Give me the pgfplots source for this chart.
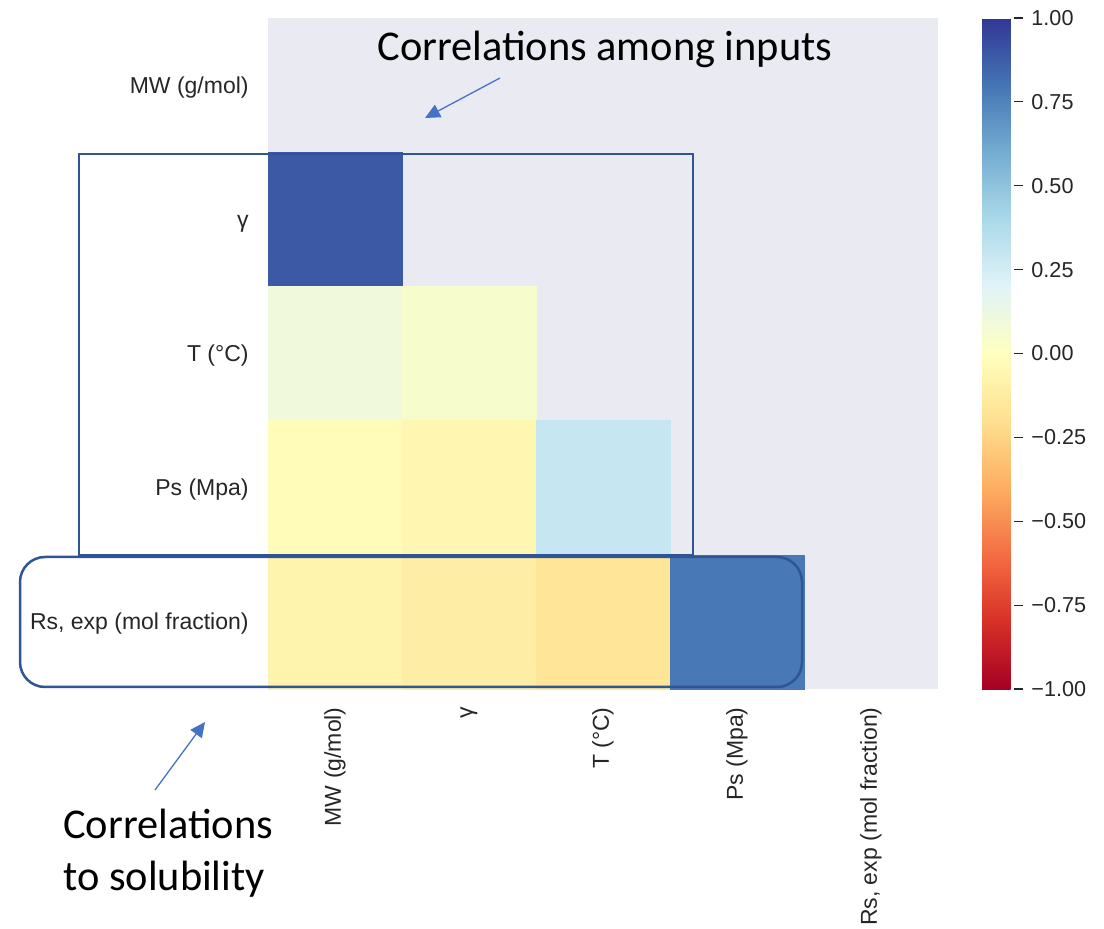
\documentclass[border=0pt]{standalone}
\usepackage{fontspec}
\setmainfont{Liberation Sans}
\newfontfamily\cali{Carlito}
\usepackage{pgfplots}
\pgfplotsset{compat=1.18}
\usetikzlibrary{arrows.meta}

\definecolor{panelbg}{RGB}{234,234,242}
\definecolor{labc}{RGB}{38,38,38}
\definecolor{boxc}{RGB}{47,85,151}
\definecolor{arrc}{RGB}{68,114,196}

\begin{document}
\begin{tikzpicture}
\useasboundingbox (0,0) rectangle (552pt,464pt);
\begin{axis}[
  at={(134pt,119.5pt)}, anchor=south west,
  scale only axis, width=335pt, height=335.5pt,
  xmin=-0.5, xmax=4.5, ymin=-0.5, ymax=4.5, y dir=reverse,
  axis background/.style={fill=panelbg},
  axis line style={draw=none},
  major tick length=0pt,
  xtick={0,1,2,3,4}, ytick={0,1,2,3,4},
  xticklabels={MW (g/mol), γ, T (°C), Ps (Mpa), {Rs, exp (mol fraction)}},
  yticklabels={MW (g/mol), γ, T (°C), Ps (Mpa), {Rs, exp (mol fraction)}},
  xticklabel style={rotate=90, anchor=east, inner sep=0pt, xshift=-9pt,
    font=\fontsize{11.5pt}{13pt}\selectfont, text=labc},
  yticklabel style={anchor=base east, inner sep=0pt, xshift=-9.5pt, yshift=-4pt,
    font=\fontsize{11.5pt}{13pt}\selectfont, text=labc},
  colormap={RdYlBu}{rgb255=(165,0,38) rgb255=(215,48,39) rgb255=(244,109,67)
    rgb255=(253,174,97) rgb255=(254,224,144) rgb255=(255,255,191)
    rgb255=(224,243,248) rgb255=(171,217,233) rgb255=(116,173,209)
    rgb255=(69,117,180) rgb255=(49,54,149)},
  point meta min=-1, point meta max=1,
  colorbar,
  colorbar style={
    at={(parent axis.north east)}, anchor=north west, xshift=13.5pt,
    scale only axis, width=16pt, height=335.5pt,
    axis line style={draw=none},
    ytick={-1,-0.75,-0.5,-0.25,0,0.25,0.5,0.75,1},
    yticklabels={−1.00,−0.75,−0.50,−0.25,0.00,0.25,0.50,0.75,1.00},
    yticklabel style={font=\fontsize{10.8pt}{12pt}\selectfont, text=labc,
      inner sep=0pt, xshift=4pt},
    ytick pos=right, tick align=outside, major tick length=4.5pt,
    tick style={draw=labc, line width=0.6pt},
  },
]
% lower triangle of the correlation matrix (column x, row y, r)
\addplot[scatter, only marks, mark=square*, mark size=33.5pt,
  point meta=explicit,
  scatter/use mapped color={draw=mapped color, fill=mapped color}]
  table[meta=c] {
x y c
0 1 0.89
0 2 0.10
1 2 0.05
0 3 -0.02
1 3 -0.055
2 3 0.30
0 4 -0.07
1 4 -0.11
2 4 -0.17
3 4 0.79
};
\end{axis}

\begin{scope}[x=0.5pt, y=-0.5pt, shift={(0pt,464pt)}]
  % grouping frames
  \draw[boxc, line width=1.25pt] (79,154) rectangle (693,555);
  \draw[boxc, line width=1.25pt, rounded corners=12.5pt] (20,557) rectangle (802,687);
  % callouts
  \node[anchor=base west, inner sep=0pt, font=\cali\fontsize{21.2pt}{25pt}\selectfont]
    at (377,61) {Correlations among inputs};
  \draw[arrc, line width=0.65pt, -{Triangle[length=7.5pt,width=7pt]}]
    (500,78) -- (425,118);
  \node[anchor=base west, inner sep=0pt, font=\cali\fontsize{21.2pt}{25pt}\selectfont]
    at (63,838) {Correlations};
  \node[anchor=base west, inner sep=0pt, font=\cali\fontsize{21.2pt}{25pt}\selectfont]
    at (63,890) {to solubility};
  \draw[arrc, line width=0.65pt, -{Triangle[length=7.5pt,width=7pt]}]
    (155,790) -- (205,722);
\end{scope}
\end{tikzpicture}
\end{document}
